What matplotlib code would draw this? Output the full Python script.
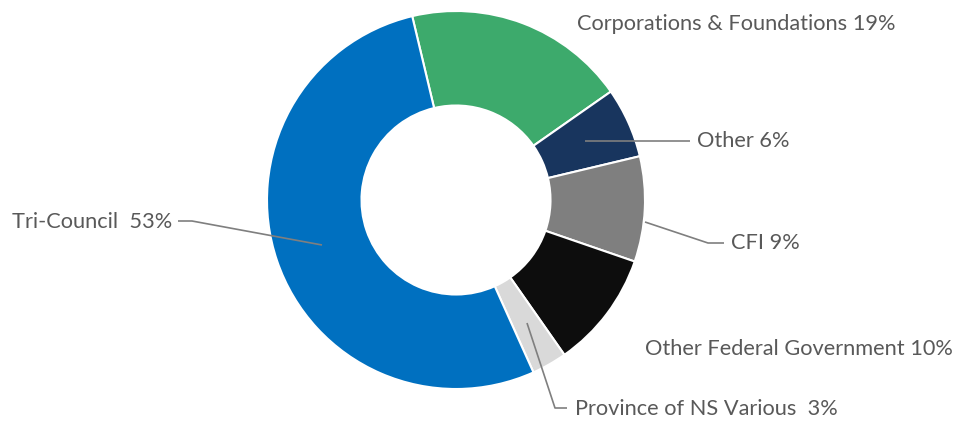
import matplotlib
matplotlib.use("Agg")
import matplotlib.pyplot as plt

# Data
categories = ["Corporations & Foundations", "Other", "CFI",
              "Other Federal Government", "Province of NS Various", "Tri-Council"]
values = [19, 6, 9, 10, 3, 53]
labels = ["Corporations & Foundations 19%", "Other 6%", "CFI 9%",
          "Other Federal Government 10%", "Province of NS Various  3%", "Tri-Council  53%"]
colors = ["#3DAA6C", "#18355E", "#7F7F7F", "#0D0D0D", "#D9D9D9", "#0070C0"]

W, H = 959, 421
fig = plt.figure(figsize=(W / 100, H / 100), dpi=100)
ax = fig.add_axes([0, 0, 1, 1])

cx, cy, R = 456, H - 200, 189
ax.pie(values, colors=colors, startangle=103.4, counterclock=False,
       center=(cx, cy), radius=R, frame=True,
       wedgeprops=dict(width=R * 0.5, edgecolor="white", linewidth=1.5))
ax.set_xlim(0, W)
ax.set_ylim(0, H)
ax.axis("off")

def py(y):
    return H - y

txt_color = "#595959"
line_color = "#7F7F7F"
fs = 15.7
font = "Lato"

# label positions (left x, center y) in pixel coordinates
label_pos = {
    "Corporations & Foundations": (577, 24),
    "Other": (697, 141),
    "CFI": (731, 243),
    "Other Federal Government": (645, 349),
    "Province of NS Various": (575, 409),
    "Tri-Council": (12, 222),
}
leaders = {
    "Other": [(585, 141), (690, 141)],
    "CFI": [(645, 222), (708, 243), (724, 243)],
    "Province of NS Various": [(527, 323), (555, 408), (567, 408)],
    "Tri-Council": [(178, 221), (192, 221), (322, 245)],
}

for cat, lab in zip(categories, labels):
    x, y = label_pos[cat]
    ax.text(x, py(y), lab, ha="left", va="center", fontsize=fs,
            color=txt_color, family=font)
    if cat in leaders:
        pts = leaders[cat]
        ax.plot([p[0] for p in pts], [py(p[1]) for p in pts],
                color=line_color, lw=1.2, solid_capstyle="butt")

fig.savefig("out.png", dpi=100)
